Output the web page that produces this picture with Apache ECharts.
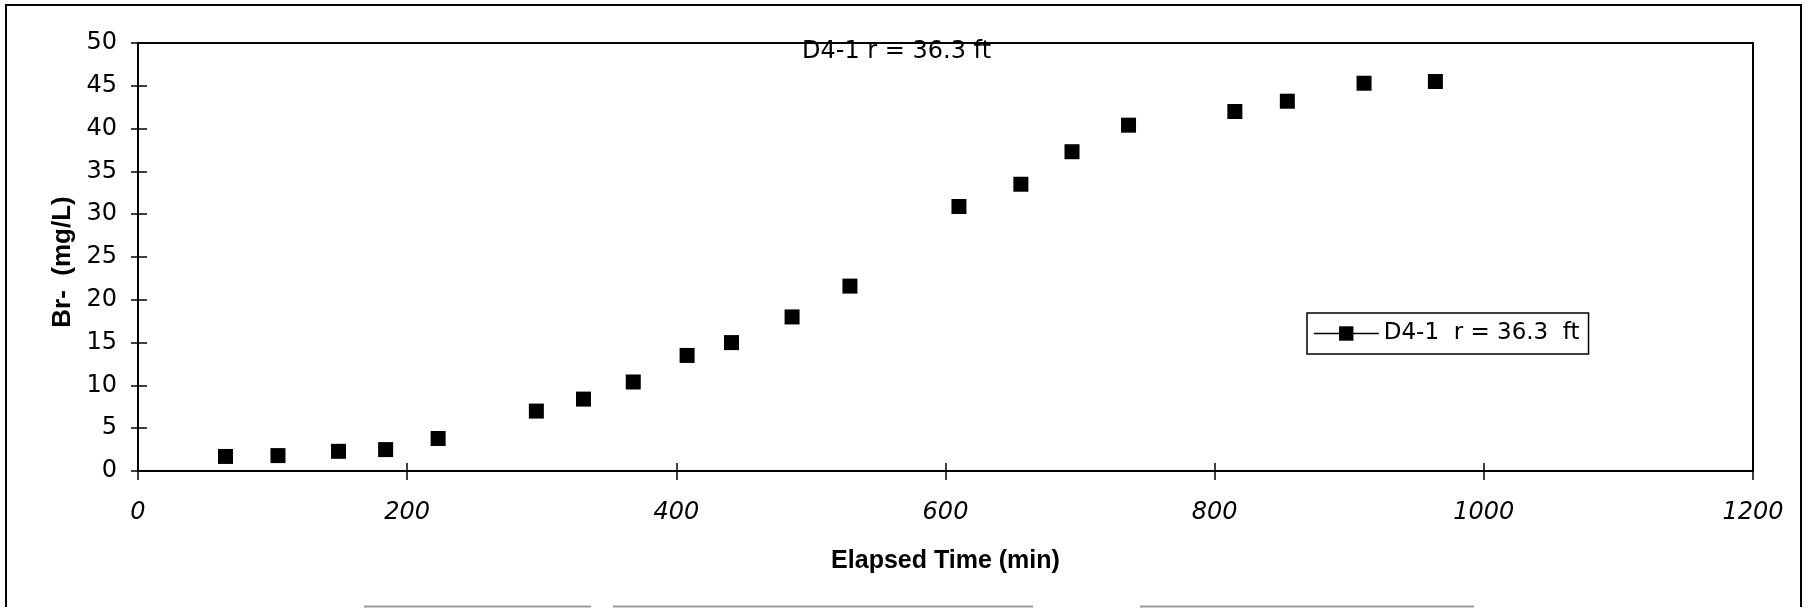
<!DOCTYPE html>
<html>
<head>
<meta charset="utf-8">
<title>D4-1 r = 36.3 ft</title>
<script src="https://cdn.jsdelivr.net/npm/echarts@6/dist/echarts.min.js"></script>
<style>
  html, body { margin: 0; padding: 0; background: #fff; }
  #chart { width: 1809px; height: 608px; }
</style>
</head>
<body>
<div id="chart"></div>
<script>
// Br- breakthrough at D4-1
const elapsedMin = [65, 104, 149, 184, 223, 296, 331, 368, 408, 441, 486, 529, 610, 656, 694, 736, 815, 854, 911, 964];
const brMgL = [1.7, 1.8, 2.3, 2.5, 3.8, 7.0, 8.4, 10.4, 13.5, 15.0, 18.0, 21.6, 30.9, 33.5, 37.3, 40.4, 42.0, 43.2, 45.3, 45.5];
const xTicks = [0, 200, 400, 600, 800, 1000, 1200];
const yTicks = [0, 5, 10, 15, 20, 25, 30, 35, 40, 45, 50];
const titleText = 'D4-1 r = 36.3 ft';
const seriesName = 'D4-1  r = 36.3  ft';
const xName = 'Elapsed Time (min)';
const yName = 'Br-  (mg/L)';

const black = '#000';

const xScale = { type: 'value', min: xTicks[0], max: xTicks[xTicks.length - 1], interval: xTicks[1] - xTicks[0] };
const yScale = { type: 'value', min: yTicks[0], max: yTicks[yTicks.length - 1], interval: yTicks[1] - yTicks[0] };
const points = elapsedMin.map((t, i) => [t, brMgL[i]]);
const axisLine = { show: true, onZero: false, lineStyle: { color: black, width: 2 } };

const chart = echarts.init(document.getElementById('chart'), null, { renderer: 'canvas' });

chart.setOption({
  animation: false,
  backgroundColor: '#fff',
  title: {
    text: titleText,
    left: 802,
    top: 40,
    padding: 0,
    textStyle: { fontFamily: 'DejaVu Sans', fontSize: 24, fontWeight: 'normal', color: black },
  },
  legend: {
    left: 1307,
    top: 313,
    padding: [9, 9, 9, 6],
    borderColor: black,
    borderWidth: 1.5,
    itemWidth: 65,
    itemHeight: 18,
    data: [seriesName],
    lineStyle: { color: black, width: 1.5, opacity: 1 },
    textStyle: { fontFamily: 'DejaVu Sans', fontSize: 23, color: black },
  },
  grid: {
    left: 138, right: 56, top: 43, bottom: 137,
    show: true, borderColor: black, borderWidth: 2,
  },
  // axis 0: labels + outward ticks; axis 1 on the same side: inward ticks, so they cross the line
  xAxis: [
    Object.assign({}, xScale, {
      position: 'bottom',
      name: xName,
      nameLocation: 'middle',
      nameGap: 78,
      nameTextStyle: { fontFamily: 'Liberation Sans', fontWeight: 'bold', fontSize: 25, color: black },
      axisLine: axisLine,
      axisTick: { show: true, inside: false, length: 9, lineStyle: { color: black, width: 1.5 } },
      axisLabel: {
        margin: 30, fontFamily: 'DejaVu Sans', fontStyle: 'italic', fontSize: 24, color: black,
        formatter: (v) => String(v),
      },
      splitLine: { show: false },
    }),
    Object.assign({}, xScale, {
      position: 'bottom',
      axisLine: axisLine,
      axisTick: { show: true, inside: true, length: 8, lineStyle: { color: black, width: 1.5 } },
      axisLabel: { show: false },
      splitLine: { show: false },
    }),
  ],
  yAxis: [
    Object.assign({}, yScale, {
      position: 'left',
      name: yName,
      nameLocation: 'middle',
      nameGap: 60,
      nameTextStyle: { fontFamily: 'Liberation Sans', fontWeight: 'bold', fontSize: 26, color: black, padding: [0, 10, 0, 0] },
      axisLine: axisLine,
      axisTick: { show: true, inside: false, length: 7, lineStyle: { color: black, width: 1.5 } },
      axisLabel: { margin: 21, fontFamily: 'DejaVu Sans', fontSize: 24, color: black },
      splitLine: { show: false },
    }),
    Object.assign({}, yScale, {
      position: 'left',
      axisLine: axisLine,
      axisTick: { show: true, inside: true, length: 9, lineStyle: { color: black, width: 1.5 } },
      axisLabel: { show: false },
      splitLine: { show: false },
    }),
  ],
  series: [
    {
      name: seriesName,
      type: 'line',
      xAxisIndex: 0,
      yAxisIndex: 0,
      data: points,
      symbol: 'rect',
      symbolSize: 15,
      showAllSymbol: true,
      lineStyle: { opacity: 0 },
      itemStyle: { color: black },
      z: 5,
    },
    {
      // hidden copy bound to the inner-tick axes
      name: 'inner-ticks',
      type: 'line',
      xAxisIndex: 1,
      yAxisIndex: 1,
      data: points,
      symbol: 'none',
      silent: true,
      lineStyle: { opacity: 0 },
    },
  ],
  // outer frame of the scanned page
  graphic: [
    {
      type: 'polyline',
      silent: true,
      shape: { points: [[6, 607], [6, 5], [1801, 5], [1801, 607]] },
      style: { stroke: black, lineWidth: 2, fill: null },
    },
    { type: 'line', silent: true, shape: { x1: 364, y1: 606.5, x2: 591, y2: 606.5 }, style: { stroke: '#999', lineWidth: 2 } },
    { type: 'line', silent: true, shape: { x1: 613, y1: 606.5, x2: 1033, y2: 606.5 }, style: { stroke: '#999', lineWidth: 2 } },
    { type: 'line', silent: true, shape: { x1: 1140, y1: 606.5, x2: 1474, y2: 606.5 }, style: { stroke: '#999', lineWidth: 2 } },
  ],
});
</script>
</body>
</html>
